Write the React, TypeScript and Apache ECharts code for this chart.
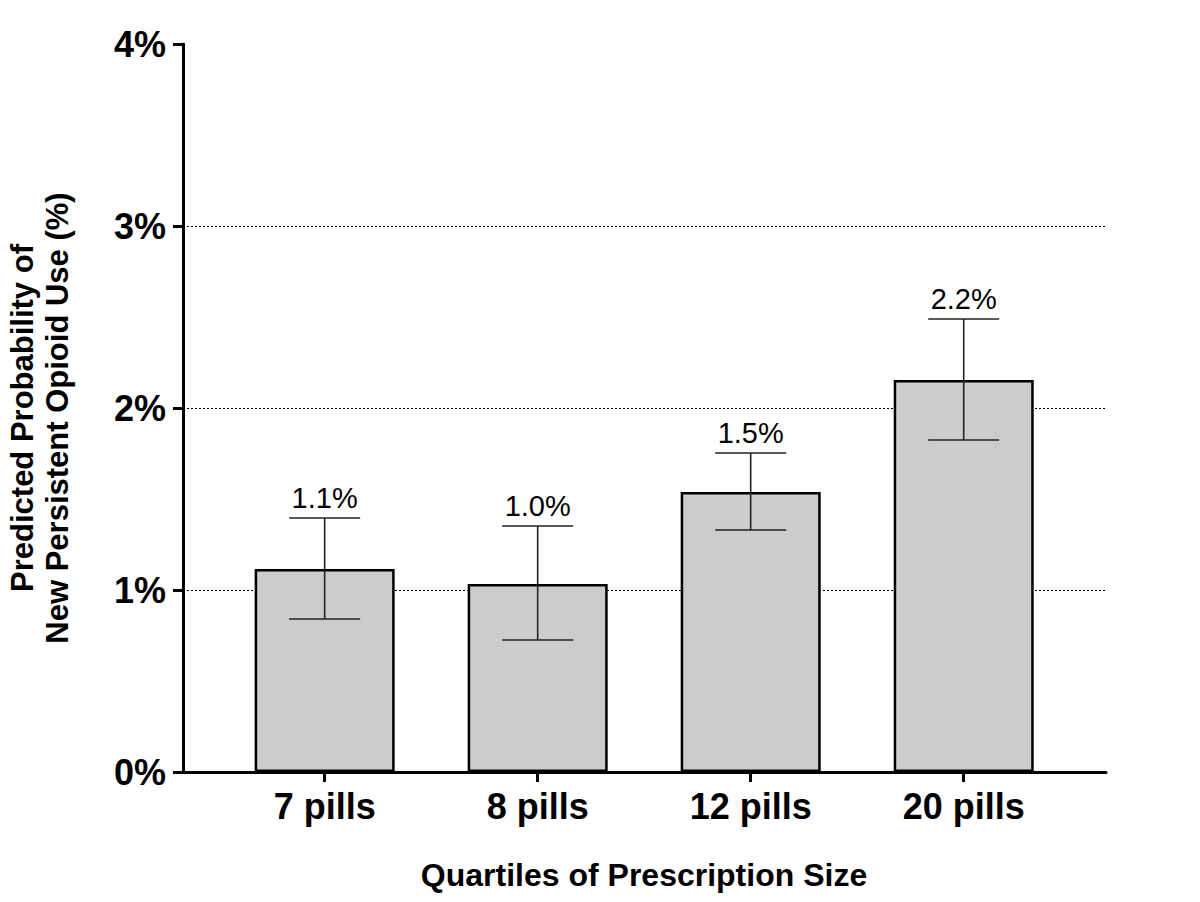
import { useEffect, useRef } from 'react'
import * as echarts from 'echarts'

const categories = ['7 pills', '8 pills', '12 pills', '20 pills']
const estimates = [1.115, 1.033, 1.538, 2.154]
const upperCI = [1.396, 1.352, 1.753, 2.489]
const lowerCI = [0.841, 0.725, 1.33, 1.824]
const valueLabels = ['1.1%', '1.0%', '1.5%', '2.2%']
const yTickLabels = ['0%', '1%', '2%', '3%', '4%']

const FONT = '"Liberation Sans", Arial, Helvetica, sans-serif'

export default function App() {
  const elRef = useRef<HTMLDivElement>(null)

  useEffect(() => {
    if (!elRef.current) return
    const chart = echarts.init(elRef.current, undefined, { renderer: 'svg' })

    const positions = categories.map((_, i) => i)

    chart.setOption({
      animation: false,
      backgroundColor: '#fff',
      textStyle: { fontFamily: FONT },
      grid: { left: 183, right: 94, top: 44, bottom: 130 },
      xAxis: {
        type: 'value',
        min: -0.665,
        max: 3.668,
        axisLine: { show: true, onZero: false, lineStyle: { color: '#000', width: 3 } },
        axisTick: {
          show: true,
          customValues: positions,
          length: 10,
          lineStyle: { color: '#000', width: 3 },
        },
        axisLabel: {
          customValues: positions,
          formatter: (v: number) => categories[Math.round(v)] ?? '',
          color: '#000',
          fontSize: 36,
          fontWeight: 'bold',
          fontFamily: FONT,
          margin: 16,
        },
        splitLine: { show: false },
      },
      yAxis: {
        type: 'value',
        min: 0,
        max: 4,
        interval: 1,
        axisLine: { show: true, onZero: false, lineStyle: { color: '#000', width: 3 } },
        axisTick: { show: true, length: 10, lineStyle: { color: '#000', width: 3 } },
        axisLabel: {
          formatter: (v: number) => yTickLabels[Math.round(v)] ?? '',
          color: '#000',
          fontSize: 36,
          fontWeight: 'bold',
          fontFamily: FONT,
          margin: 17,
        },
        splitLine: {
          show: true,
          showMinLine: false,
          showMaxLine: false,
          lineStyle: { color: '#000', width: 1, type: [2, 2] },
        },
      },
      graphic: [
        {
          type: 'text',
          x: 40,
          y: 418,
          rotation: Math.PI / 2,
          style: {
            text: 'Predicted Probability of\nNew Persistent Opioid Use (%)',
            fontSize: 31,
            fontWeight: 'bold',
            fontFamily: FONT,
            lineHeight: 35,
            fill: '#000',
            align: 'center',
            verticalAlign: 'middle',
          },
        },
        {
          type: 'text',
          x: 644,
          y: 875,
          style: {
            text: 'Quartiles of Prescription Size',
            fontSize: 32,
            fontWeight: 'bold',
            fontFamily: FONT,
            fill: '#000',
            align: 'center',
            verticalAlign: 'middle',
          },
        },
      ],
      series: [
        {
          type: 'bar',
          data: estimates.map((v, i) => [i, v]),
          barWidth: 140,
          itemStyle: { color: '#cccccc', borderColor: '#000', borderWidth: 2.5 },
          z: 2,
        },
        {
          type: 'custom',
          data: estimates.map((_, i) => [i, upperCI[i], lowerCI[i]]),
          z: 3,
          renderItem: (params: any, api: any) => {
            const x = api.value(0)
            const hi = api.coord([x, api.value(1)])
            const lo = api.coord([x, api.value(2)])
            const half = 35.5
            const stroke = { stroke: '#222', lineWidth: 1.6 }
            return {
              type: 'group',
              children: [
                { type: 'line', shape: { x1: hi[0], y1: hi[1], x2: lo[0], y2: lo[1] }, style: stroke },
                { type: 'line', shape: { x1: hi[0] - half, y1: hi[1], x2: hi[0] + half, y2: hi[1] }, style: stroke },
                { type: 'line', shape: { x1: lo[0] - half, y1: lo[1], x2: lo[0] + half, y2: lo[1] }, style: stroke },
                {
                  type: 'text',
                  x: hi[0],
                  y: hi[1] - 20,
                  style: {
                    text: valueLabels[params.dataIndex],
                    fontSize: 29,
                    fontFamily: FONT,
                    fill: '#000',
                    align: 'center',
                    verticalAlign: 'middle',
                  },
                },
              ],
            }
          },
        },
      ],
    })

    return () => {
      chart.dispose()
    }
  }, [])

  return (
    <div
      ref={elRef}
      style={{ position: 'fixed', left: 0, top: 0, width: 1200, height: 902 }}
    />
  )
}
